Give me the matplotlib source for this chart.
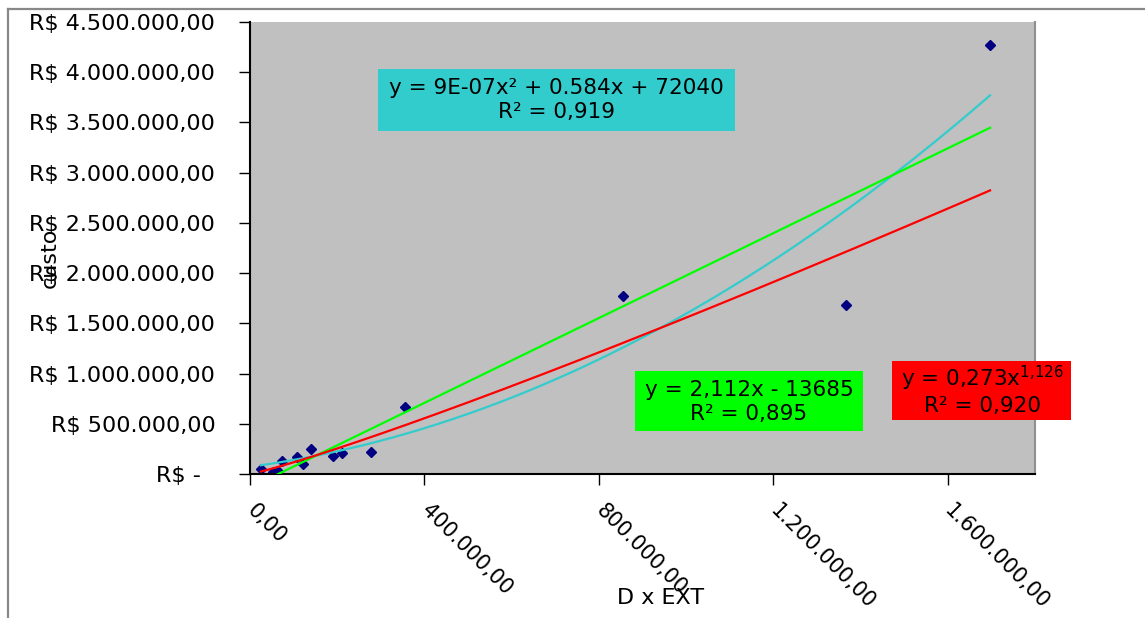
import numpy as np
import matplotlib
matplotlib.use("Agg")
import matplotlib.pyplot as plt
from matplotlib.patches import Rectangle
from matplotlib.lines import Line2D

# ---------------- data ----------------
x_values = [25000, 53000, 65000, 73000, 108000, 122000, 139000, 191000,
            212000, 277000, 355000, 855000, 1366000, 1697000]
y_values = [47000, 23000, 33000, 132000, 166000, 96000, 249000, 182000,
            212000, 216000, 667000, 1773000, 1683000, 4273000]

x_ticks = [0, 400000, 800000, 1200000, 1600000]
x_tick_labels = ["0,00", "400.000,00", "800.000,00", "1.200.000,00", "1.600.000,00"]
y_ticks = [0, 500000, 1000000, 1500000, 2000000, 2500000, 3000000,
           3500000, 4000000, 4500000]
y_tick_labels = ["R$ -  ", "R$ 500.000,00", "R$ 1.000.000,00", "R$ 1.500.000,00",
                 "R$ 2.000.000,00", "R$ 2.500.000,00", "R$ 3.000.000,00",
                 "R$ 3.500.000,00", "R$ 4.000.000,00", "R$ 4.500.000,00"]

linear_coef = [2.112, -136850]
poly_coef = [9.4e-7, 0.584, 72040]
power_coef = [0.273, 1.126]

poly_label = "y = 9E-07x² + 0.584x + 72040\nR² = 0,919"
linear_label = "y = 2,112x - 13685\nR² = 0,895"
power_label = "y = 0,273x$^{\\mathdefault{1{,}126}}$\nR² = 0,920"

x_label = "D x EXT"
y_label = "custo"

# ---------------- figure ----------------
plt.rcParams["font.family"] = ["DejaVu Sans"]
W, H = 1145, 618
fig = plt.figure(figsize=(W / 100, H / 100), dpi=100)
fig.patch.set_facecolor("white")

ax = fig.add_axes([250 / W, 1 - 474 / H, (1035 - 250) / W, (474 - 22) / H])
ax.set_facecolor("#C0C0C0")

xs = np.linspace(min(x_values), max(x_values), 300)
ax.plot(x_values, y_values, linestyle="none", marker="D", markersize=5.5,
        color="#000080", zorder=2)
ax.plot(xs, np.polyval(poly_coef, xs), color="#33CCCC", lw=1.6, zorder=3)
ax.plot(xs, np.polyval(linear_coef, xs), color="#00FF00", lw=1.6, zorder=3)
ax.plot(xs, power_coef[0] * xs ** power_coef[1], color="#FF0000", lw=1.6, zorder=3)

ax.set_xlim(0, 1800000)
ax.set_ylim(0, 4500000)
ax.set_xticks(x_ticks)
ax.set_xticklabels(x_tick_labels)
ax.set_yticks(y_ticks)
ax.set_yticklabels(y_tick_labels)

ax.tick_params(axis="both", direction="out", length=8, width=1,
               colors="black", labelsize=16)
ax.tick_params(axis="y", pad=17)
ax.tick_params(axis="x", pad=16, labelsize=15)
for lab in ax.get_xticklabels():
    lab.set_rotation(-45)
    lab.set_ha("left")
    lab.set_va("center")
    lab.set_rotation_mode("anchor")

ax.spines["top"].set_visible(False)
ax.spines["right"].set_color("#909090")
ax.spines["right"].set_linewidth(1.5)
ax.spines["left"].set_color("black")
ax.spines["left"].set_linewidth(1.5)
ax.spines["bottom"].set_color("black")
ax.spines["bottom"].set_linewidth(1.5)

# axis titles
fig.text(50 / W, 1 - 258 / H, y_label, rotation=90, ha="center", va="center",
         fontsize=16)
fig.text(661 / W, 1 - 598 / H, x_label, ha="center", va="center", fontsize=16)


def box(x0, y0, x1, y1, color):
    fig.add_artist(Rectangle((x0 / W, 1 - y1 / H), (x1 - x0) / W, (y1 - y0) / H,
                             transform=fig.transFigure, facecolor=color,
                             edgecolor="none", zorder=5))


def label(cx, cy, text):
    fig.text(cx / W, 1 - cy / H, text, ha="center", va="center",
             multialignment="center", fontsize=15.5, linespacing=1.2,
             color="black", zorder=6)


box(378, 69, 735, 131, "#33CCCC")
label(556, 100, poly_label)
box(635, 371, 863, 431, "#00FF00")
label(749, 402, linear_label)
box(892, 361, 1071, 420, "#FF0000")
label(982, 390, power_label)

# outer frame
fig.add_artist(Line2D([7.5 / W, 1], [1 - 8.5 / H, 1 - 8.5 / H], color="#888888",
                      lw=1.6, transform=fig.transFigure))
fig.add_artist(Line2D([7.5 / W, 7.5 / W], [0, 1 - 8.5 / H], color="#888888",
                      lw=1.6, transform=fig.transFigure))

fig.savefig("out.png", dpi=100)
